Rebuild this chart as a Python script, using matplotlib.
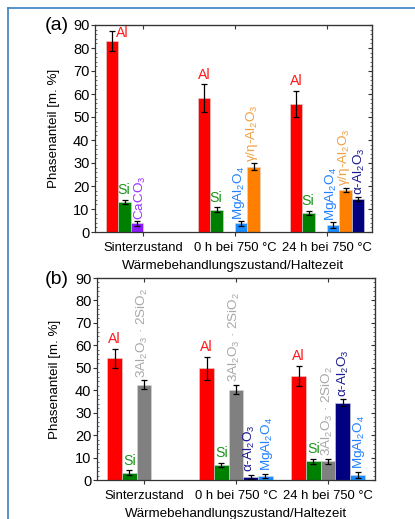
import matplotlib
matplotlib.use("Agg")
import matplotlib.pyplot as plt
from matplotlib.lines import Line2D
from matplotlib.ticker import MultipleLocator
import numpy as np

plt.rcParams['font.family'] = ['Liberation Sans', 'DejaVu Sans']
plt.rcParams['mathtext.default'] = 'regular'

categories = ["Sinterzustand", "0 h bei 750 °C", "24 h bei 750 °C"]
xlabel = "Wärmebehandlungszustand/Haltezeit"
ylabel = "Phasenanteil [m. %]"

# Panel (a): slots Al, Si, CaCO3, MgAl2O4, gamma/eta-Al2O3, alpha-Al2O3
a_names = ["Al", "Si", "CaCO$_3$", "MgAl$_2$O$_4$", "γ/η-Al$_2$O$_3$", "α-Al$_2$O$_3$"]
a_al = [83.0, 58.2, 55.8]
a_al_err = [4.2, 6.0, 5.6]
a_si = [13.0, 9.7, 8.3]
a_si_err = [1.0, 1.0, 1.0]
a_caco3 = [3.7, None, None]
a_caco3_err = [1.1, None, None]
a_mgal = [None, 3.7, 3.0]
a_mgal_err = [None, 1.1, 1.2]
a_gamma = [None, 28.3, 18.3]
a_gamma_err = [None, 1.5, 1.0]
a_alpha = [None, None, 14.3]
a_alpha_err = [None, None, 1.0]

# Panel (b): slots Al, Si, 3Al2O3*2SiO2, alpha-Al2O3, MgAl2O4
b_names = ["Al", "Si", "3Al$_2$O$_3$ · 2SiO$_2$", "α-Al$_2$O$_3$", "MgAl$_2$O$_4$"]
b_al = [54.2, 49.8, 46.4]
b_al_err = [4.3, 5.1, 4.6]
b_si = [3.3, 6.7, 8.3]
b_si_err = [1.0, 1.0, 1.2]
b_mull = [42.5, 40.3, 8.3]
b_mull_err = [1.9, 2.0, 1.0]
b_alpha = [None, 1.3, 34.5]
b_alpha_err = [None, 1.0, 1.5]
b_mgal = [None, 1.7, 2.3]
b_mgal_err = [None, 1.0, 1.2]

bar_colors_a = ['#ff0000', '#008000', '#8c1aff', '#1a8cff', '#ff8000', '#000080']
label_colors_a = ['#ff1a1a', '#1a961a', '#9933ff', '#2080ff', '#f0a040', '#1a1a90']
bar_colors_b = ['#ff0000', '#008000', '#808080', '#000080', '#1a8cff']
label_colors_b = ['#ff1a1a', '#1a961a', '#a8a8a8', '#1a1a90', '#2080ff']

fig = plt.figure(figsize=(4.15, 5.19), dpi=100)

TFS = 10.5   # y tick labels
CFS = 9.4    # category labels
LFS = 9.6    # axis labels
HFS = 10.2   # horizontal bar labels
RFS = 9.7    # rotated bar labels


def style_axes(ax, xlim):
    ax.set_xlim(*xlim)
    ax.set_ylim(0, 90)
    ax.set_xticks([1, 2, 3])
    ax.set_xticklabels(categories, fontsize=CFS)
    ax.yaxis.set_major_locator(MultipleLocator(10))
    ax.yaxis.set_minor_locator(MultipleLocator(2))
    ax.tick_params(axis='y', which='major', direction='out', length=3, labelsize=TFS,
                   pad=1, right=False, width=0.8, color='#333333')
    ax.tick_params(axis='y', which='minor', direction='in', length=1.5, left=True, right=True,
                   width=0.6, color='#555555')
    ax.tick_params(axis='x', which='major', direction='out', length=3, top=False, pad=4,
                   width=0.8, color='#333333')
    ax2 = ax.secondary_yaxis('right')
    ax2.yaxis.set_major_locator(MultipleLocator(10))
    ax2.tick_params(axis='y', which='major', direction='in', length=3, labelright=False,
                    width=0.8, color='#333333')
    ax3 = ax.secondary_xaxis('top')
    ax3.set_xticks([1, 2, 3])
    ax3.tick_params(axis='x', direction='in', length=3, labeltop=False, width=0.8,
                    color='#333333')
    for s in ax2.spines.values():
        s.set_color('#333333')
    for s in ax3.spines.values():
        s.set_color('#333333')
    for s in ax.spines.values():
        s.set_color('#333333')
        s.set_linewidth(0.9)
    ax.set_xlabel(xlabel, fontsize=LFS)
    ax.set_ylabel(ylabel, fontsize=LFS)


def draw_series(ax, vals, errs, offset, width, color):
    xs, vs, es = [], [], []
    for i, (v, e) in enumerate(zip(vals, errs)):
        if v is None:
            continue
        xs.append(i + 1 + offset)
        vs.append(v)
        es.append(e)
    ax.bar(xs, vs, width=width, color=color, edgecolor='#d8d8d8', linewidth=0.4, zorder=2)
    ax.errorbar(xs, vs, yerr=es, fmt='none', ecolor='black', elinewidth=0.9,
                capsize=2.2, capthick=0.9, zorder=3)
    return xs, vs, es


def label_series(ax, xs, vs, es, text, color, rotated, dx=0.0, gap=1.2, ha='center'):
    if np.isscalar(dx):
        dx = [dx] * len(xs)
    for x, v, e, d in zip(xs, vs, es, dx):
        if rotated:
            ax.text(x + d, v + e + gap, text, rotation=90, ha='center', va='bottom',
                    color=color, fontsize=RFS, zorder=4)
        else:
            ax.text(x + d, v + e + gap, text, ha=ha, va='bottom',
                    color=color, fontsize=HFS, zorder=4)


# ---------------- Panel (a) ----------------
axa = fig.add_axes([95 / 415, 1 - 232 / 519, 277 / 415, 207 / 519])
wa = 0.134
a_series = [(a_al, a_al_err), (a_si, a_si_err), (a_caco3, a_caco3_err),
            (a_mgal, a_mgal_err), (a_gamma, a_gamma_err), (a_alpha, a_alpha_err)]
a_dx = [0.0, -0.01, 0.035, -0.02, -0.012, 0.016]
for k, (vals, errs) in enumerate(a_series):
    off = (k - 2.5) * wa
    xs, vs, es = draw_series(axa, vals, errs, off, wa, bar_colors_a[k])
    if k == 0:
        axa.text(xs[0] + 0.04, vs[0] + es[0] - 3.8, a_names[0], ha='left', va='bottom',
                 color=label_colors_a[0], fontsize=HFS)
        label_series(axa, xs[1:], vs[1:], es[1:], a_names[0], label_colors_a[0], False)
    elif k == 1:
        label_series(axa, xs, vs, es, a_names[1], label_colors_a[1], False, dx=a_dx[k])
    else:
        label_series(axa, xs, vs, es, a_names[k], label_colors_a[k], True, dx=a_dx[k], gap=0.6)
style_axes(axa, (0.478, 3.489))
axa.xaxis.set_label_coords(0.5, -0.135)
axa.yaxis.set_label_coords(-0.125, 0.5)
fig.text(57 / 415, 1 - 25 / 519, "(a)", fontsize=14, ha='center', va='center')

# ---------------- Panel (b) ----------------
axb = fig.add_axes([97 / 415, 1 - 480 / 519, 278 / 415, 202 / 519])
wb = 0.16
b_series = [(b_al, b_al_err), (b_si, b_si_err), (b_mull, b_mull_err),
            (b_alpha, b_alpha_err), (b_mgal, b_mgal_err)]
b_dx = [0.0, 0.0, -0.012, [-0.01, 0.008], 0.016]
for k, (vals, errs) in enumerate(b_series):
    off = (k - 2) * wb
    xs, vs, es = draw_series(axb, vals, errs, off, wb, bar_colors_b[k])
    if k in (0, 1):
        label_series(axb, xs, vs, es, b_names[k], label_colors_b[k], False)
    else:
        label_series(axb, xs, vs, es, b_names[k], label_colors_b[k], True, dx=b_dx[k], gap=1.2)
style_axes(axb, (0.489, 3.51))
axb.xaxis.set_label_coords(0.5, -0.14)
axb.yaxis.set_label_coords(-0.13, 0.5)
fig.text(57 / 415, 1 - 280 / 519, "(b)", fontsize=14, ha='center', va='center')

# frame lines (blue border at left and top)
fig.add_artist(Line2D([8 / 415, 8 / 415], [0, 1 - 8 / 519], color='#3a80c4', lw=1.2,
                      transform=fig.transFigure))
fig.add_artist(Line2D([8 / 415, 1], [1 - 8 / 519, 1 - 8 / 519], color='#3a80c4', lw=1.2,
                      transform=fig.transFigure))

fig.savefig("out.png", dpi=100)
